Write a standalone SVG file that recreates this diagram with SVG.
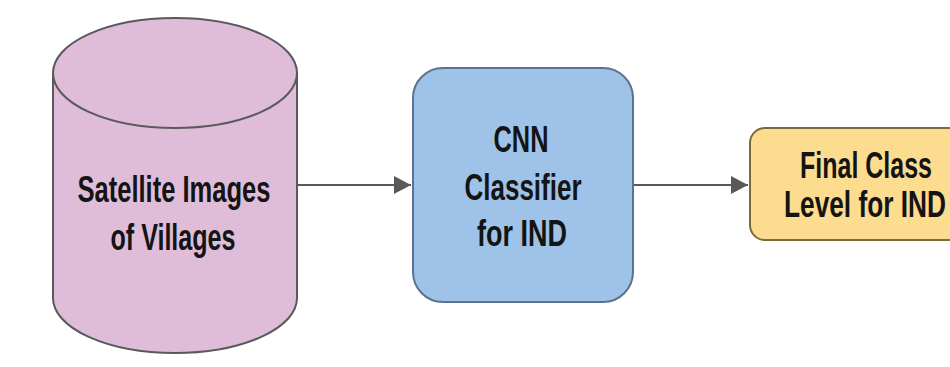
<svg xmlns="http://www.w3.org/2000/svg" width="950" height="367" viewBox="0 0 950 367">
  <defs>
    <marker id="arrow" markerWidth="10" markerHeight="10" refX="9" refY="5" orient="auto" markerUnits="userSpaceOnUse" viewBox="0 0 10 10">
      <path d="M0,0 L10,5 L0,10 Z" fill="#595959"/>
    </marker>
  </defs>
  <style>
    .label { font-family: "Liberation Sans", Arial, sans-serif; font-weight: bold; font-size: 36px; fill: #141414; text-anchor: middle; }
    .edge { stroke: #595959; stroke-width: 2; fill: none; }
  </style>
  <rect width="950" height="367" fill="#ffffff"/>

  <g id="connectors">
    <line class="edge" x1="297" y1="185" x2="411" y2="185"/>
    <path d="M394,176 L411,185 L394,194 Z" fill="#595959"/>
    <line class="edge" x1="634" y1="185" x2="748" y2="185"/>
    <path d="M731,176 L748,185 L731,194 Z" fill="#595959"/>
  </g>

  <g id="satellite-images">
    <path d="M53,73 L53,298 A122,55 0 0 0 297,298 L297,73" fill="#dfbdd9" stroke="#5a5a5a" stroke-width="2"/>
    <ellipse cx="175" cy="73" rx="122" ry="55" fill="#dfbdd9" stroke="#5a5a5a" stroke-width="2"/>
    <text class="label" x="174" y="202" textLength="193" lengthAdjust="spacingAndGlyphs">Satellite Images</text>
    <text class="label" x="173" y="250" textLength="125" lengthAdjust="spacingAndGlyphs">of Villages</text>
  </g>

  <g id="cnn-classifier">
    <rect x="413" y="68" width="220" height="234" rx="30" ry="30" fill="#9fc3e8" stroke="#5b7290" stroke-width="2"/>
    <text class="label" x="521" y="152" textLength="55" lengthAdjust="spacingAndGlyphs">CNN</text>
    <text class="label" x="523" y="200" textLength="117" lengthAdjust="spacingAndGlyphs">Classifier</text>
    <text class="label" x="522" y="246" textLength="90" lengthAdjust="spacingAndGlyphs">for IND</text>
  </g>

  <g id="final-class">
    <rect x="750" y="128" width="215" height="112" rx="15" ry="15" fill="#fcdc8e" stroke="#7d6a3c" stroke-width="2"/>
    <text class="label" x="866" y="178" textLength="132" lengthAdjust="spacingAndGlyphs">Final Class</text>
    <text class="label" x="865" y="217" textLength="162" lengthAdjust="spacingAndGlyphs">Level for IND</text>
  </g>
</svg>
